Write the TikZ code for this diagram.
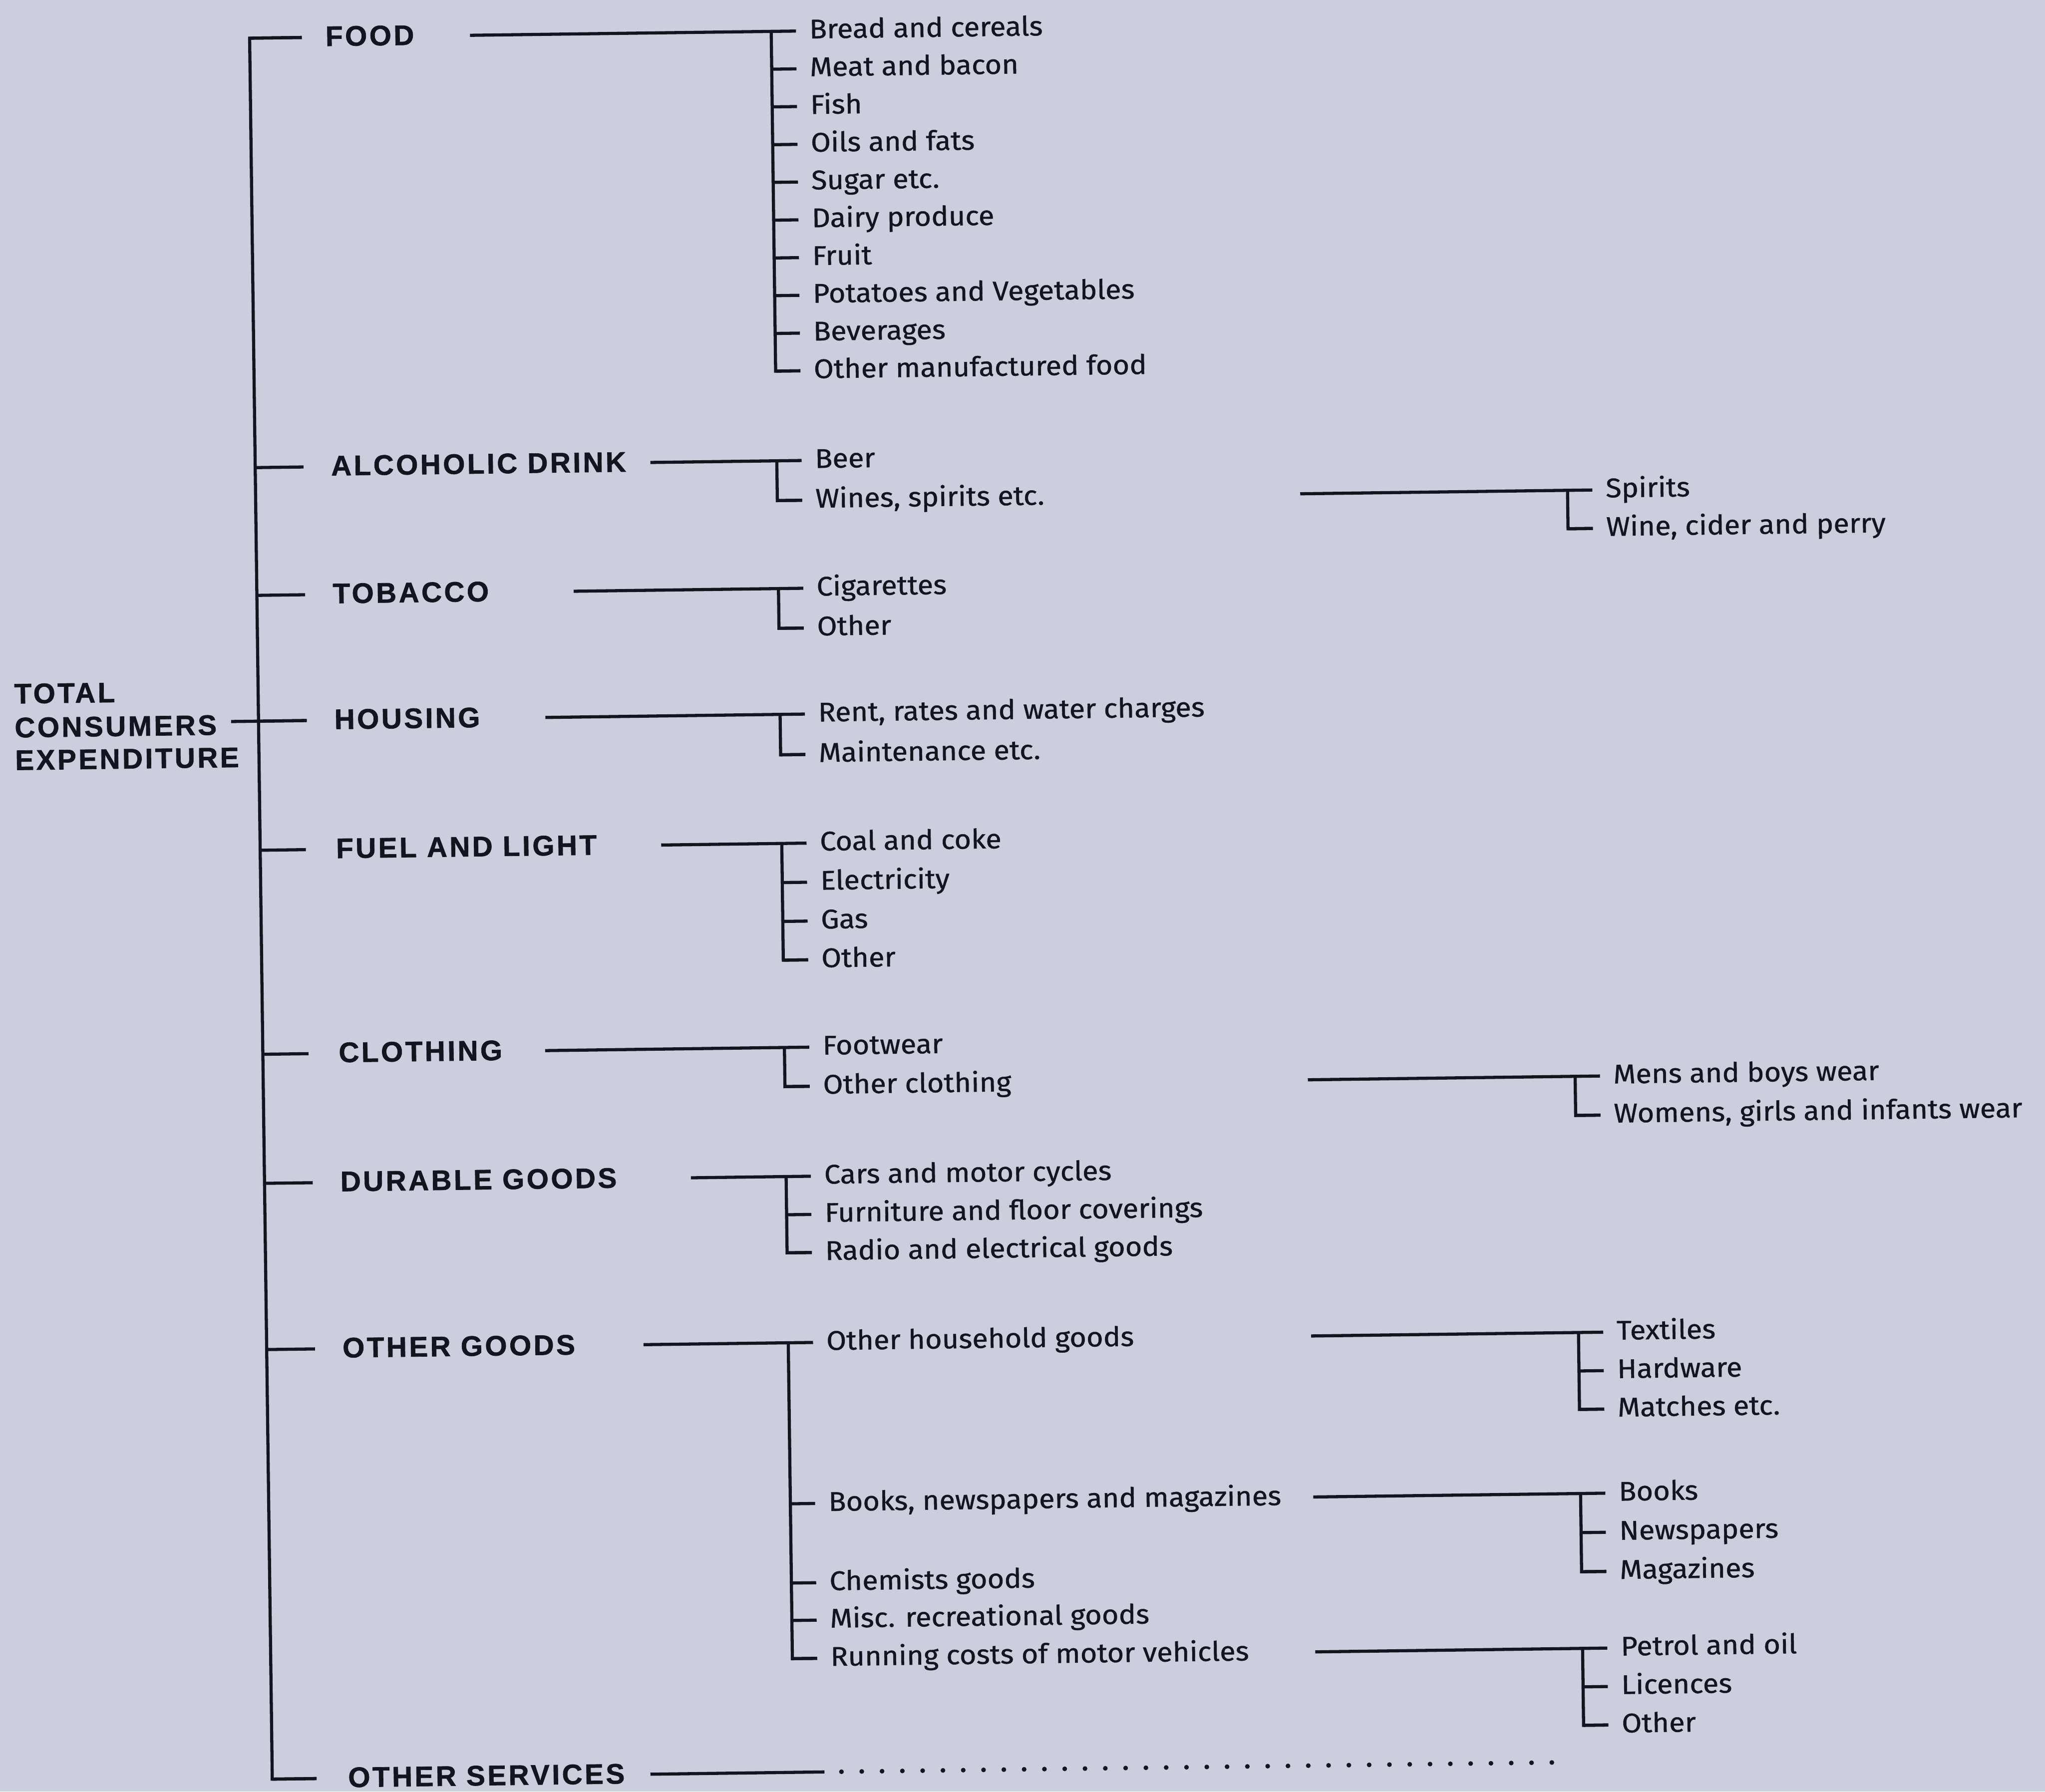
\documentclass[tikz,border=0pt]{standalone}
\usepackage{fontspec}
\newfontfamily\hdfam[LetterSpace=8,FakeBold=1.2]{Liberation Sans}
\newfontfamily\itfam[FakeStretch=1.07,FakeBold=0.8]{Fira Sans}
\definecolor{bg}{RGB}{203,206,220}
\definecolor{ink}{RGB}{20,20,30}
\newcommand\brk[4]{%
  \foreach \ry/\t [count=\i from 0] in {#4} {%
    \ifnum\i=0 \xdef\yfirst{\ry}\fi
    \coordinate (#1\i a) at (#2,\ry);
    \coordinate (#1\i b) at (#2+19,\ry);
    \node[itm] (#1\i) at (#2+29,\ry+5.8) {\t};
    \xdef\nlast{\i}%
  }%
  \coordinate (#1in) at (#3,\yfirst);
  \draw[ln] (#1in) -- (#10b);
  \draw[ln] (#10a) -- (#1\nlast a) -- (#1\nlast b);
  \foreach \j in {1,...,\nlast} {\draw[ln] (#1\j a) -- (#1\j b);}
}
\newcommand\cat[4]{%
  \coordinate (#1ta) at (200,#2);
  \coordinate (#1tb) at (#3,#2);
  \draw[ln] (#1ta) -- (#1tb);
  \node[hd] (#1) at (258,#2+6.8) {#4};
}
\begin{document}
\begin{tikzpicture}[x=0.035cm,y=-0.035cm,
  hd/.style={font=\hdfam\bfseries\fontsize{21.6}{25}\selectfont, anchor=base west, inner sep=0pt, text=ink},
  itm/.style={font=\itfam\fontsize{20.6}{24}\selectfont, anchor=base west, inner sep=0pt, text=ink},
  ln/.style={line width=2.4pt, draw=ink},
  dotln/.style={line width=3.6pt, draw=ink, line cap=round, dash pattern=on 0pt off 15.5pt}]
\fill[bg] (0,0) rectangle (1568,1374);
\useasboundingbox (0,0) rectangle (1568,1374);
\begin{scope}[rotate around={0.745:(784,687)}, transform shape]
% main spine
\coordinate (mTop) at (200,21.6);
\coordinate (mBot) at (200,1357);
\cat{food}{21.6}{240}{FOOD}
\cat{alc}{351}{237}{ALCOHOLIC DRINK}
\cat{tob}{449}{237}{TOBACCO}
\cat{hou}{545.5}{237}{HOUSING}
\cat{fuel}{644.5}{235}{FUEL AND LIGHT}
\cat{clo}{801}{235}{CLOTHING}
\cat{dur}{900}{237}{DURABLE GOODS}
\cat{oth}{1027.5}{237}{OTHER GOODS}
\cat{osv}{1357}{234}{OTHER SERVICES}
\draw[ln] (foodtb) -- (mTop) -- (mBot) -- (osvtb);
% total
\node[hd] (tot1) at (12.8,529.5) {TOTAL};
\node[hd] (tot2) at (12.8,555.5) {CONSUMERS};
\node[hd] (tot3) at (12.8,580.5) {EXPENDITURE};
\coordinate (totR) at (179,545.5);
\draw[ln] (totR) -- (houtb);
% brackets
\brk{fd}{600}{369}{21.6/Bread and cereals, 50.6/Meat and bacon, 79.5/Fish, 108.5/Oils and fats, 137.4/Sugar etc., 166.4/Dairy produce, 195.4/Fruit, 224.3/Potatoes and Vegetables, 253.3/Beverages, 282.2/Other manufactured food}
\brk{al}{600}{503}{351/Beer, 381.5/{Wines, spirits etc.}}
\brk{sp}{1206}{1001}{381.5/Spirits, 411/{Wine, cider and perry}}
\brk{tb}{600}{443}{449/Cigarettes, 479.5/Other}
\brk{ho}{600}{420}{545.5/{Rent, rates and water charges}, 576.5/Maintenance etc.}
\brk{fu}{600}{507.5}{644.5/Coal and coke, 674.5/Electricity, 704.3/Gas, 734/Other}
\brk{cl}{600}{416.5}{801/Footwear, 831/Other clothing}
\brk{mw}{1206}{1001}{831/Mens and boys wear, 861/{Womens, girls and infants wear}}
\brk{du}{600}{527}{900/Cars and motor cycles, 929.3/Furniture and floor coverings, 958.5/Radio and electrical goods}
\brk{og}{600}{489}{1027.5/Other household goods, 1151/{Books, newspapers and magazines}, 1211.8/Chemists goods, 1240.5/Misc. recreational goods, 1269.8/Running costs of motor vehicles}
\brk{tx}{1206}{1001}{1027.5/Textiles, 1057/Hardware, 1086.5/Matches etc.}
\brk{bk}{1206}{1001}{1151/Books, 1181/Newspapers, 1211/Magazines}
\brk{pt}{1206}{1001}{1269.8/Petrol and oil, 1299.3/Licences, 1328.8/Other}
% other services
\coordinate (osvA) at (490,1357);
\coordinate (osvB) at (623.5,1357);
\coordinate (dotA) at (636.5,1357);
\coordinate (dotB) at (1192,1357);
\draw[ln] (osvA) -- (osvB);
\draw[dotln] (dotA) -- (dotB);
\end{scope}
\end{tikzpicture}
\end{document}
